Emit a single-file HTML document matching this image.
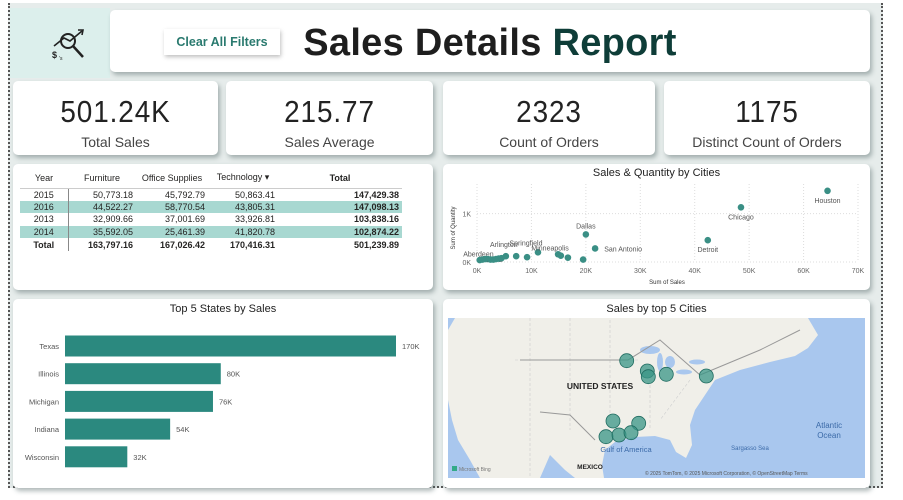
<!DOCTYPE html>
<html><head><meta charset="utf-8">
<style>
*{box-sizing:border-box;margin:0;padding:0}
body{width:903px;height:500px;background:#fff;font-family:"Liberation Sans",sans-serif;position:relative;overflow:hidden;color:#252423}
#canvas{position:absolute;left:8px;top:3px;width:875px;height:485px;background:#e6eceb;border-left:2px dotted #555;border-right:2px dotted #555;border-bottom:2px dotted #555}
.card{position:absolute;background:#fff;border-radius:5px;box-shadow:2px 3px 5px rgba(80,100,100,.45)}
.kv{position:absolute;left:0;right:0;top:13px;text-align:center;font-size:31px;letter-spacing:1px;color:#222;transform:scaleX(.9)}
.kl{position:absolute;left:0;right:0;top:53px;text-align:center;font-size:14px;color:#444}
table{border-collapse:collapse;font-size:9px;position:absolute;left:7px;top:4px}
td,th{height:12.6px;padding:0 3px;text-align:right;white-space:nowrap}
th{font-weight:normal;text-align:center;height:20px;border-bottom:1px solid #ccc}
tr.hl td{background:#a8d8d1}
.ct{position:absolute;left:0;right:0;text-align:center;font-size:11px;color:#222}
</style></head><body>
<div id="canvas"></div>
<div style="position:absolute;left:10px;top:8px;width:100px;height:70px;background:#dcefec"></div>
<svg style="position:absolute;left:48px;top:26px" width="40" height="36" viewBox="0 0 40 36">
<circle cx="20" cy="15" r="7" fill="none" stroke="#222" stroke-width="2"/><line x1="25" y1="20" x2="35" y2="31" stroke="#222" stroke-width="2.5"/>
<path d="M6 20 L16 12 L22 15 L34 5" fill="none" stroke="#222" stroke-width="1.6"/><path d="M30 4 L35 4 L34 9" fill="none" stroke="#222" stroke-width="1.6"/>
<text x="4" y="32" font-size="9" font-weight="bold" fill="#222">$</text><text x="11" y="34" font-size="5" fill="#222">'s</text></svg>
<div class="card" style="left:110px;top:10px;width:760px;height:62px"></div>
<div style="position:absolute;left:164px;top:29px;width:116px;height:26px;background:#fff;box-shadow:1px 2px 4px rgba(0,0,0,.25);font-size:12.5px;font-weight:bold;color:#2a7a6f;text-align:center;line-height:26px">Clear All Filters</div>
<div style="position:absolute;left:290px;top:22px;width:400px;text-align:center;font-size:38px;font-weight:bold;color:#1e1e1e;letter-spacing:.3px">Sales Details <span style="color:#0e3d38">Report</span></div>

<div class="card" style="left:13px;top:81px;width:205px;height:74px"><div class="kv">501.24K</div><div class="kl">Total Sales</div></div>
<div class="card" style="left:226px;top:81px;width:207px;height:74px"><div class="kv">215.77</div><div class="kl">Sales Average</div></div>
<div class="card" style="left:443px;top:81px;width:212px;height:74px"><div class="kv">2323</div><div class="kl">Count of Orders</div></div>
<div class="card" style="left:664px;top:81px;width:206px;height:74px"><div class="kv">1175</div><div class="kl">Distinct Count of Orders</div></div>

<div class="card" style="left:13px;top:164px;width:420px;height:126px">
<table>
<tr><th style="width:48px">Year</th><th style="width:68px">Furniture</th><th style="width:72px">Office Supplies</th><th style="width:70px">Technology ▾</th><th style="width:124px;font-weight:bold;text-align:center">Total</th></tr>
<tr><td style="text-align:center;border-right:1px solid #888">2015</td><td>50,773.18</td><td>45,792.79</td><td>50,863.41</td><td><b>147,429.38</b></td></tr>
<tr class="hl"><td style="text-align:center;border-right:1px solid #888">2016</td><td>44,522.27</td><td>58,770.54</td><td>43,805.31</td><td><b>147,098.13</b></td></tr>
<tr><td style="text-align:center;border-right:1px solid #888">2013</td><td>32,909.66</td><td>37,001.69</td><td>33,926.81</td><td><b>103,838.16</b></td></tr>
<tr class="hl"><td style="text-align:center;border-right:1px solid #888">2014</td><td>35,592.05</td><td>25,461.39</td><td>41,820.78</td><td><b>102,874.22</b></td></tr>
<tr><td style="text-align:center;border-right:1px solid #888"><b>Total</b></td><td><b>163,797.16</b></td><td><b>167,026.42</b></td><td><b>170,416.31</b></td><td><b>501,239.89</b></td></tr>
</table></div>

<div class="card" style="left:443px;top:164px;width:427px;height:126px">
<div class="ct" style="top:3px">Sales &amp; Quantity by Cities</div></div>
<svg id="sc" style="position:absolute;left:443px;top:164px" width="427" height="126"></svg>

<div class="card" style="left:13px;top:299px;width:420px;height:189px">
<div class="ct" style="top:4px">Top 5 States by Sales</div></div>
<svg id="bc" style="position:absolute;left:13px;top:299px" width="420" height="189"></svg>

<div class="card" style="left:443px;top:299px;width:427px;height:189px">
<div class="ct" style="top:4px">Sales by top 5 Cities</div></div>
<svg style="position:absolute;left:448px;top:318px" width="417" height="160" viewBox="448 318 417 160">
<rect x="448" y="318" width="417" height="160" fill="#a9c7ee"/>
<path d="M455 318 L808 318 L818 335 L808 348 L795 356 L770 362 L740 370 L715 380 L705 395 L695 410 L690 425 L692 445 L686 458 L676 452 L670 440 L655 436 L635 437 L615 442 L605 450 L602 465 L604 478 L480 478 L470 460 L458 440 L452 420 L448 400 L448 330 Z" fill="#f0efe9"/>
<path d="M540 478 L550 455 L565 470 L575 478 Z" fill="#a9c7ee"/>
<ellipse cx="650" cy="350" rx="10" ry="4" fill="#a9c7ee"/><ellipse cx="660" cy="362" rx="3" ry="9" fill="#a9c7ee"/><ellipse cx="670" cy="362" rx="5" ry="6" fill="#a9c7ee"/><ellipse cx="684" cy="372" rx="8" ry="2.5" fill="#a9c7ee"/><ellipse cx="697" cy="362" rx="8" ry="2.5" fill="#a9c7ee"/>
<path d="M515 360 L640 360 M530 318 L530 478 M570 318 L570 430 M610 320 L610 420 M650 380 L650 430 M690 380 L660 420" stroke="#ccc" stroke-dasharray="3 2" stroke-width=".6" fill="none"/>
<path d="M520 360 L628 360 L660 340 L700 375 L760 350 L800 330" stroke="#999" stroke-width="1" fill="none"/>
<path d="M540 412 L570 415 L595 440" stroke="#999" stroke-width="1" fill="none"/>
<text x="600" y="389" font-size="8.5" font-weight="bold" text-anchor="middle" fill="#222">UNITED STATES</text>
<text x="829" y="428" font-size="8" text-anchor="middle" fill="#3b6aa8">Atlantic</text><text x="829" y="438" font-size="8" text-anchor="middle" fill="#3b6aa8">Ocean</text>
<text x="626" y="452" font-size="7.5" text-anchor="middle" fill="#3b6aa8">Gulf of America</text>
<text x="750" y="450" font-size="6" text-anchor="middle" fill="#3b6aa8">Sargasso Sea</text>
<text x="590" y="469" font-size="6.5" font-weight="bold" text-anchor="middle" fill="#222">MEXICO</text>
<rect x="452" y="466" width="5" height="5" fill="#3a8"/><text x="459" y="471" font-size="5" fill="#777">Microsoft Bing</text>
<text x="645" y="475" font-size="5" fill="#555">© 2025 TomTom, © 2025 Microsoft Corporation, © OpenStreetMap  Terms</text>
<g id="bub"></g>
</svg>

<script>
const NS="http://www.w3.org/2000/svg";
function mk(p,t,a){const e=document.createElementNS(NS,t);for(const k in a)e.setAttribute(k,a[k]);p.appendChild(e);return e;}
// scatter data
const cityNames=["Houston","Chicago","Dallas","Detroit","San Antonio","Springfield","Minneapolis","","","","","","Arlington","Aberdeen","Aurora","","","","","","",""];
const citySales=[64.4,48.5,20.0,42.4,21.7,11.2,14.9,15.4,16.7,19.5,9.2,7.2,5.3,1.0,2.0,3.0,4.0,0.5,1.5,2.5,3.5,4.5];
const cityQty=[1.47,1.13,0.57,0.45,0.28,0.20,0.16,0.13,0.09,0.05,0.10,0.12,0.12,0.05,0.06,0.05,0.07,0.04,0.06,0.05,0.06,0.08];
const xTicks=[0,10,20,30,40,50,60,70];
const yTicks=[0,1];
const sc=document.getElementById('sc');
const sx=v=>34+v*(381/70), sy=v=>98-v*48.4;
yTicks.forEach(t=>{const g=mk(sc,'line',{x1:34,x2:415,y1:sy(t),y2:sy(t),stroke:'#ddd','stroke-dasharray':'1 2'});
 const l=mk(sc,'text',{x:28,y:sy(t)+3,'font-size':7,'text-anchor':'end',fill:'#666'});l.textContent=t+'K';});
xTicks.forEach(t=>{const g=mk(sc,'line',{x1:sx(t),x2:sx(t),y1:20,y2:98,stroke:'#ddd','stroke-dasharray':'1 2'});
 const l=mk(sc,'text',{x:sx(t),y:109,'font-size':7,'text-anchor':'middle',fill:'#666'});l.textContent=t+'K';});
let xt=mk(sc,'text',{x:224,y:120,'font-size':6,'text-anchor':'middle',fill:'#333'});xt.textContent='Sum of Sales';


let yt=mk(sc,'text',{x:12,y:64,'font-size':6,'text-anchor':'middle',fill:'#333',transform:'rotate(-90 12 64)'});yt.textContent='Sum of Quantity';


const lblOff={"Houston":[0,12],"Chicago":[0,12],"Dallas":[0,-6],"Detroit":[0,12],"San Antonio":[28,3],"Springfield":[-12,-7],"Minneapolis":[-8,-4],"Arlington":[-2,-9],"Aberdeen":[-4,-3],"Aurora":[4,3]};
citySales.forEach((v,i)=>{const c=mk(sc,'circle',{cx:sx(v),cy:sy(cityQty[i]),r:3.3,fill:'#3a8f85'});
 
 
 const n=cityNames[i];if(n&&lblOff[n]){const t=mk(sc,'text',{x:sx(v)+lblOff[n][0],y:sy(cityQty[i])+lblOff[n][1],'font-size':7,'text-anchor':'middle',fill:'#555'});t.textContent=n;
 
 }});
// bar data
const states=["Texas","Illinois","Michigan","Indiana","Wisconsin"];
const stateSales=[170,80,76,54,32];
const stateLabels=["170K","80K","76K","54K","32K"];
const bc=document.getElementById('bc');
const bx=v=>52+v*(331/170);
states.forEach((s,i)=>{const cy=47+i*27.7;
 const r=mk(bc,'rect',{x:52,y:cy-10.5,width:bx(stateSales[i])-52,height:21,fill:'#2b897f'});
 
 
 const t=mk(bc,'text',{x:46,y:cy+3,'font-size':7.5,'text-anchor':'end',fill:'#555'});t.textContent=s;
 
 
 const v=mk(bc,'text',{x:bx(stateSales[i])+6,y:cy+3,'font-size':7.5,fill:'#555'});v.textContent=stateLabels[i];
 
 });
// map bubbles
const bubLon=[626.7,647.3,648.3,666.3,706.3,613,638.7,606,619,631];
const bubLat=[360.7,371,376.7,374.3,376,421,423.3,436.7,435,432.7];
const bub=document.getElementById('bub');
bubLon.forEach((x,i)=>{const c=mk(bub,'circle',{cx:x,cy:bubLat[i],r:7,fill:'#3a9585','fill-opacity':.75,stroke:'#1f6b60','stroke-width':.8});
 
 });
</script>
</body></html>
